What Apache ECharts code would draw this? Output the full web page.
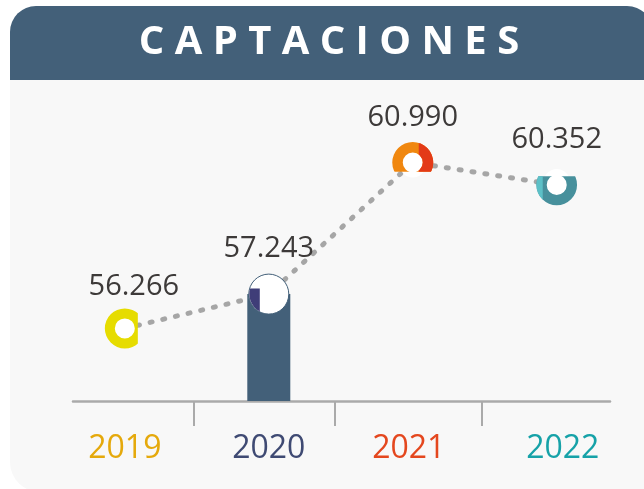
<!DOCTYPE html>
<html>
<head>
<meta charset="utf-8">
<script src="https://cdn.jsdelivr.net/npm/echarts@6/dist/echarts.min.js"></script>
<style>
  html, body { margin: 0; padding: 0; background: #fff; }
  #main { width: 644px; height: 489px; }
</style>
</head>
<body>
<div id="main"></div>
<script>
const titleText = 'C A P T A C I O N E S'
const years = ['2019', '2020', '2021', '2022']
const captaciones = [56266, 57243, 60990, 60352]
const barYears = ['2020']
const yearColors = ['#E5A90C', '#3F4A73', '#E4471E', '#16A2A8']

// ring look of each point: [colour, clip dx, clip dy, clip w, clip h]
const markerStyles = [
  { r0: 10, r: 20, hole: [0, 10.5], parts: [['#E6DC00', -30, -30, 43, 60]] },
  { r0: 0, r: 19.5, disc: 20, parts: [['#3F3D78', -30, -5.7, 21, 40]] },
  { r0: 10, r: 20.5, hole: [2, 13], parts: [['#F0870F', -30, -30, 60, 39.3], ['#E33A18', 6, -30, 30, 39.3]] },
  { r0: 10, r: 20.3, hole: [-3, 13], parts: [['#47909C', -30, -8.7, 60, 40], ['#5CC0C7', -30, -8.7, 16, 40]] }
]

function fmt(v) {
  return String(v).replace(/\B(?=(\d{3})+(?!\d))/g, '.')
}

const points = captaciones.map(function (v, i) { return [i, v] })
const barData = points.filter(function (p) { return barYears.indexOf(years[p[0]]) >= 0 })

const rich = {}
years.forEach(function (y, i) {
  rich['y' + i] = {
    color: yearColors[i],
    fontSize: 32,
    fontFamily: 'Open Sans',
    lineHeight: 32,
    padding: i === 2 ? [0, 8, 0, 0] : (i === 3 ? [0, 0, 0, 12] : 0)
  }
})

var myChart = echarts.init(document.getElementById('main'))
const option = {
  backgroundColor: '#fff',
  animation: false,
  graphic: [
    {
      type: 'rect', z: -10,
      shape: { x: 10, y: 70, width: 650, height: 422, r: [0, 0, 0, 30] },
      style: { fill: '#f8f8f8' }
    },
    {
      type: 'rect', z: -9,
      shape: { x: 10, y: 6, width: 643, height: 74, r: [26, 26, 0, 0] },
      style: { fill: '#436079' }
    },
    {
      type: 'text', z: 100, x: 329, y: 43,
      style: {
        text: titleText, fill: '#fff', font: 'bold 40px "Open Sans"',
        align: 'center', verticalAlign: 'middle'
      }
    }
  ],
  grid: { left: 73, right: 34, top: 127, bottom: 88 },
  xAxis: {
    type: 'value',
    min: -0.36,
    max: 3.37,
    splitLine: { show: false },
    axisLine: { lineStyle: { color: '#aaaaaa', width: 2.5 } },
    axisTick: {
      customValues: [0.48, 1.46, 2.48],
      length: 25,
      lineStyle: { color: '#aaaaaa', width: 2 }
    },
    axisLabel: {
      customValues: [0, 1, 2, 3],
      margin: 32,
      formatter: function (v) {
        const i = Math.round(v)
        return '{y' + i + '|' + years[i] + '}'
      },
      rich: rich
    }
  },
  yAxis: { type: 'value', min: 54200, max: 62000, show: false },
  series: [
    {
      type: 'bar',
      z: 1,
      data: barData,
      barWidth: 43,
      itemStyle: { color: '#436079' }
    },
    {
      type: 'line',
      z: 2,
      data: points,
      symbol: 'circle',
      symbolSize: 1,
      itemStyle: { color: 'rgba(0,0,0,0)' },
      lineStyle: { color: '#a6a6a6', width: 5, type: [2, 11], cap: 'round' },
      label: {
        show: true,
        position: 'top',
        distance: 30,
        fontSize: 29,
        fontFamily: 'Open Sans',
        color: '#3d3a39',
        formatter: function (p) { return fmt(p.value[1]) }
      },
      labelLayout: function (params) {
        if (params.dataIndex === 0) return { dx: 9, dy: 3 }
        return {}
      }
    },
    {
      type: 'custom',
      z: 3,
      data: points,
      encode: { x: 0, y: 1 },
      renderItem: function (params, api) {
        const m = markerStyles[params.dataIndex]
        const pt = api.coord([api.value(0), api.value(1)])
        const cx = pt[0]
        const cy = pt[1]
        const children = []
        if (m.disc) {
          children.push({ type: 'circle', shape: { cx: cx, cy: cy, r: m.disc }, style: { fill: '#fff', stroke: '#436079', lineWidth: 1 } })
        } else {
          children.push({ type: 'circle', shape: { cx: cx, cy: cy + m.hole[0], r: m.hole[1] }, style: { fill: '#fff' } })
        }
        m.parts.forEach(function (p) {
          children.push({
            type: 'ring',
            shape: { cx: cx, cy: cy, r: m.r, r0: m.r0 },
            style: { fill: p[0] },
            clipPath: { type: 'rect', shape: { x: cx + p[1], y: cy + p[2], width: p[3], height: p[4] } }
          })
        })
        return { type: 'group', children: children }
      }
    }
  ]
}
myChart.setOption(option)
</script>
</body>
</html>
